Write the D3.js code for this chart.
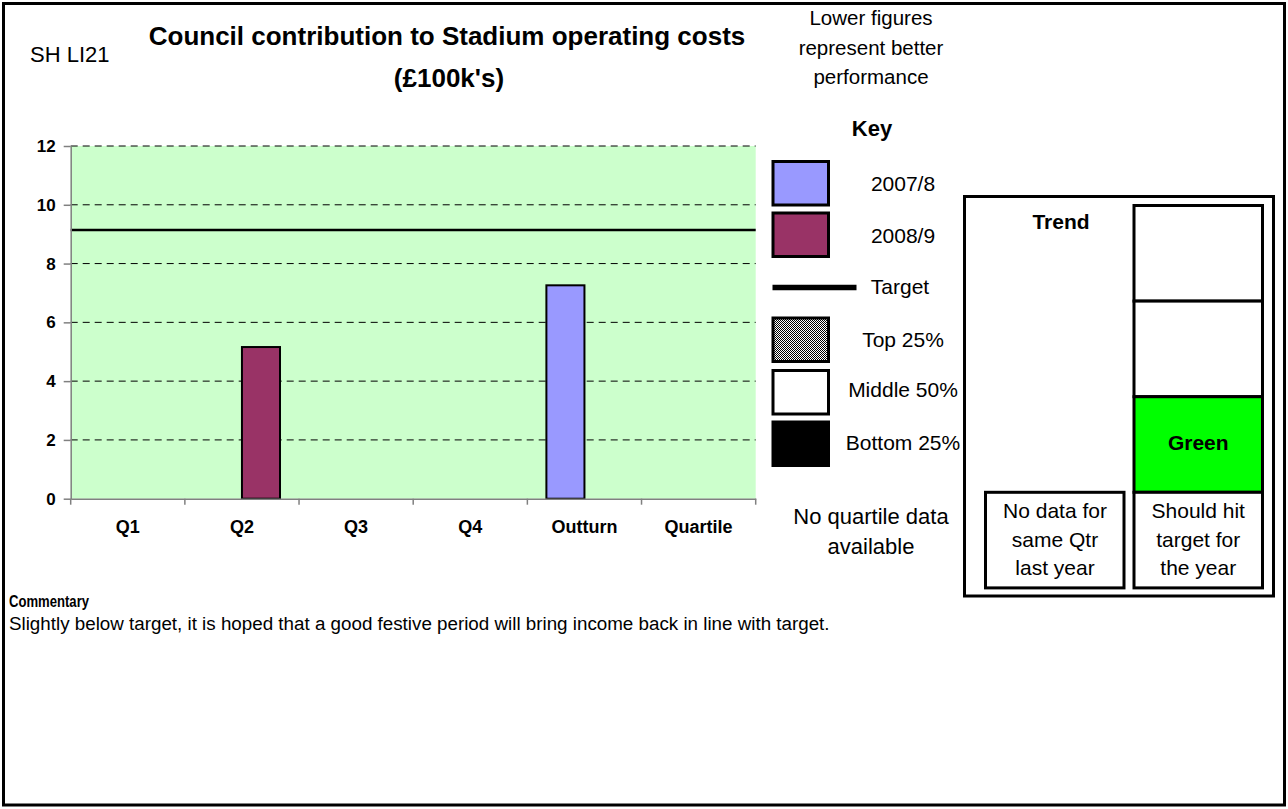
<!DOCTYPE html>
<html>
<head>
<meta charset="utf-8">
<script src="https://cdn.jsdelivr.net/npm/d3@7"></script>
<style>
  html, body { margin: 0; padding: 0; background: #fff; }
  svg { display: block; font-family: "Liberation Sans", Arial, Helvetica, sans-serif; }
</style>
</head>
<body>
<svg id="chart" width="1288" height="809"></svg>
<script>
// ---- data ----
const categories = ["Q1", "Q2", "Q3", "Q4", "Outturn", "Quartile"];
const seriesNames = ["2007/8", "2008/9"];
const values2007 = [null, null, null, null, 7.26, null];
const values2008 = [null, 5.16, null, null, null, null];
const targetValue = 9.14;
const yTickValues = [0, 2, 4, 6, 8, 10, 12];
const seriesColors = ["#9999FF", "#993366"];

const legendItems = ["2007/8", "2008/9", "Target", "Top 25%", "Middle 50%", "Bottom 25%"];
const headerNote = ["Lower figures", "represent better", "performance"];
const quartileNote = ["No quartile data", "available"];
const trendNote = ["No data for", "same Qtr", "last year"];
const statusNote = ["Should hit", "target for", "the year"];
const commentary = "Slightly below target, it is hoped that a good festive period will bring income back in line with target.";

const svg = d3.select("#chart");

// pattern for the "Top 25%" swatch
const defs = svg.append("defs");
const pat = defs.append("pattern").attr("id", "dots")
  .attr("width", 2).attr("height", 2).attr("patternUnits", "userSpaceOnUse");
pat.append("rect").attr("width", 2).attr("height", 2).attr("fill", "#fff");
pat.append("rect").attr("x", 0).attr("y", 0).attr("width", 1).attr("height", 1).attr("fill", "#000");
pat.append("rect").attr("x", 1).attr("y", 1).attr("width", 1).attr("height", 1).attr("fill", "#000");

// page frame
svg.append("rect").attr("x", 3.5).attr("y", 3.5).attr("width", 1281).attr("height", 801.5)
  .attr("fill", "#fff").attr("stroke", "#000").attr("stroke-width", 3);

// headings
svg.append("text").attr("x", 30).attr("y", 62).attr("font-size", 22).text("SH LI21");
svg.append("text").attr("x", 447).attr("y", 45).attr("text-anchor", "middle")
  .attr("font-size", 26).attr("font-weight", "bold").text("Council contribution to Stadium operating costs");
svg.append("text").attr("x", 449).attr("y", 87).attr("text-anchor", "middle")
  .attr("font-size", 26).attr("font-weight", "bold").text("(£100k's)");
svg.selectAll("text.note").data(headerNote).join("text").attr("class", "note")
  .attr("x", 871).attr("y", (d, i) => 25 + i * 29.5).attr("text-anchor", "middle")
  .attr("font-size", 20.5).text(d => d);

// ---- plot ----
const x0 = 70.7, x1r = 755.7, yBottom = 498.7, yTop = 146;
const x = d3.scaleBand().domain(categories).range([x0, x1r]).paddingInner(0).paddingOuter(0);
const xs = d3.scaleBand().domain(seriesNames).range([0, x.bandwidth()]).paddingInner(0).paddingOuter(0.5);
const y = d3.scaleLinear().domain([0, 12]).range([yBottom, yTop]);

const plot = svg.append("g");
plot.append("rect").attr("x", x0).attr("y", yTop).attr("width", x1r - x0).attr("height", yBottom - yTop)
  .attr("fill", "#CCFFCC");

// dashed gridlines
plot.selectAll("line.grid").data(yTickValues.filter(v => v > 0)).join("line").attr("class", "grid")
  .attr("x1", x0).attr("x2", x1r).attr("y1", d => y(d)).attr("y2", d => y(d))
  .attr("stroke", "#000").attr("stroke-width", 1).attr("stroke-dasharray", "7,5");

// bars
const barData = [];
categories.forEach((c, i) => {
  [values2007[i], values2008[i]].forEach((v, s) => {
    if (v != null) barData.push({ cat: c, series: seriesNames[s], value: v, color: seriesColors[s] });
  });
});
plot.selectAll("rect.bar").data(barData).join("rect").attr("class", "bar")
  .attr("x", d => x(d.cat) + xs(d.series)).attr("width", xs.bandwidth())
  .attr("y", d => y(d.value)).attr("height", d => y(0) - y(d.value))
  .attr("fill", d => d.color).attr("stroke", "#000").attr("stroke-width", 2);

// target line
plot.append("line").attr("x1", x0).attr("x2", x1r).attr("y1", y(targetValue)).attr("y2", y(targetValue))
  .attr("stroke", "#000").attr("stroke-width", 2.5);

// y axis
const yAxis = svg.append("g").attr("transform", `translate(${x0},0)`)
  .call(d3.axisLeft(y).tickValues(yTickValues).tickSize(7).tickPadding(8).tickSizeOuter(0));
yAxis.select(".domain").attr("stroke", "#808080").attr("stroke-width", 1.5);
yAxis.selectAll(".tick line").attr("stroke", "#808080").attr("stroke-width", 1.5);
yAxis.selectAll(".tick text").attr("font-size", 17).attr("font-weight", "bold")
  .attr("font-family", "Liberation Sans, Arial, sans-serif").attr("fill", "#000");

// x axis
const xAxis = svg.append("g").attr("transform", `translate(0,${yBottom})`)
  .call(d3.axisBottom(x).tickSize(0).tickPadding(22).tickSizeOuter(0));
xAxis.select(".domain").attr("stroke", "#808080").attr("stroke-width", 1.5);
xAxis.selectAll(".tick text").attr("font-size", 18).attr("font-weight", "bold")
  .attr("font-family", "Liberation Sans, Arial, sans-serif").attr("fill", "#000");
const edges = categories.map(c => x(c)).concat([x1r]);
xAxis.selectAll("line.edge").data(edges).join("line").attr("class", "edge")
  .attr("x1", d => d).attr("x2", d => d).attr("y1", 0).attr("y2", 6)
  .attr("stroke", "#808080").attr("stroke-width", 1.5);

// ---- key ----
svg.append("text").attr("x", 872).attr("y", 136).attr("text-anchor", "middle")
  .attr("font-size", 22).attr("font-weight", "bold").text("Key");
const swatchY = { "2007/8": 161.5, "2008/9": 213, "Top 25%": 318, "Middle 50%": 370.5, "Bottom 25%": 422 };
const swatchFill = { "2007/8": seriesColors[0], "2008/9": seriesColors[1], "Top 25%": "url(#dots)", "Middle 50%": "#fff", "Bottom 25%": "#000" };
const labelY = [191, 243, 294, 347, 397, 450];
const key = svg.append("g");
legendItems.forEach((name, i) => {
  if (name === "Target") {
    key.append("line").attr("x1", 772.5).attr("x2", 856.5).attr("y1", 287.5).attr("y2", 287.5)
      .attr("stroke", "#000").attr("stroke-width", 5.5);
    key.append("text").attr("x", 900).attr("y", labelY[i]).attr("text-anchor", "middle")
      .attr("font-size", 21).text(name);
  } else {
    key.append("rect").attr("x", 773).attr("y", swatchY[name]).attr("width", 55.5).attr("height", 43.5)
      .attr("fill", swatchFill[name]).attr("stroke", "#000").attr("stroke-width", 3);
    key.append("text").attr("x", 903).attr("y", labelY[i]).attr("text-anchor", "middle")
      .attr("font-size", 21).text(name);
  }
});
key.selectAll("text.qn").data(quartileNote).join("text").attr("class", "qn")
  .attr("x", 871).attr("y", (d, i) => 524 + i * 30).attr("text-anchor", "middle")
  .attr("font-size", 22).text(d => d);

// ---- trend panel ----
const trend = svg.append("g");
trend.append("rect").attr("x", 964.5).attr("y", 196.5).attr("width", 309).attr("height", 399.5)
  .attr("fill", "#fff").attr("stroke", "#000").attr("stroke-width", 3);
trend.append("text").attr("x", 1061).attr("y", 229).attr("text-anchor", "middle")
  .attr("font-size", 21).attr("font-weight", "bold").text("Trend");
const colX = 1134, colW = 128.5, cellH = 95.6, colTop = 205.5;
const cellFill = ["#fff", "#fff", "#00FF00", "#fff"];
cellFill.forEach((f, i) => {
  trend.append("rect").attr("x", colX).attr("y", colTop + i * cellH).attr("width", colW).attr("height", cellH)
    .attr("fill", f).attr("stroke", "#000").attr("stroke-width", 3);
});
trend.append("text").attr("x", colX + colW / 2).attr("y", 450).attr("text-anchor", "middle")
  .attr("font-size", 21).attr("font-weight", "bold").text("Green");
trend.append("rect").attr("x", 985.5).attr("y", colTop + 3 * cellH).attr("width", 138.5).attr("height", cellH)
  .attr("fill", "#fff").attr("stroke", "#000").attr("stroke-width", 3);
trend.selectAll("text.tn").data(trendNote).join("text").attr("class", "tn")
  .attr("x", 1055).attr("y", (d, i) => 518 + i * 28.5).attr("text-anchor", "middle")
  .attr("font-size", 21).text(d => d);
trend.selectAll("text.sn").data(statusNote).join("text").attr("class", "sn")
  .attr("x", colX + colW / 2).attr("y", (d, i) => 518 + i * 28.5).attr("text-anchor", "middle")
  .attr("font-size", 21).text(d => d);

// ---- commentary ----
svg.append("text").attr("x", 9).attr("y", 607).attr("font-size", 17).attr("font-weight", "bold")
  .attr("textLength", 80).attr("lengthAdjust", "spacingAndGlyphs").text("Commentary");
svg.append("text").attr("x", 9).attr("y", 630).attr("font-size", 18.8).text(commentary);
</script>
</body>
</html>
